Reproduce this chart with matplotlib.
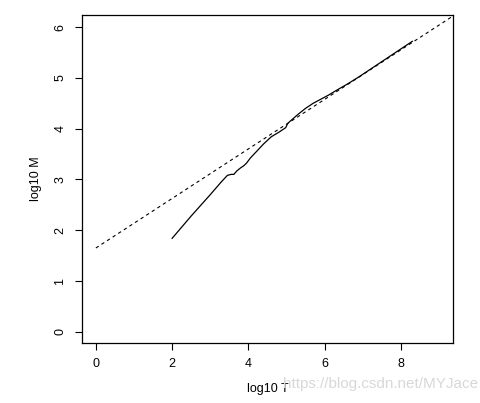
import matplotlib.pyplot as plt
import numpy as np

plt.rcParams['font.family'] = ['Liberation Sans', 'DejaVu Sans']

# Dashed reference line endpoints (log10 T, log10 M)
ref_t = [0.0, 9.37]
ref_m = [1.65, 6.22]

obs_t = [2.0, 2.5, 3.0, 3.3, 3.45, 3.55, 3.62, 3.7, 3.8, 3.88, 3.95, 4.05,
         4.2, 4.4, 4.6, 4.8, 4.98, 5.03, 5.1, 5.3, 5.5, 5.7, 5.9, 6.1,
         6.3, 6.6, 6.9, 7.3, 7.7, 8.0, 8.3]
obs_m = [1.84, 2.28, 2.7, 2.96, 3.08, 3.1, 3.1, 3.17, 3.23, 3.27, 3.32, 3.42,
         3.54, 3.7, 3.84, 3.93, 4.02, 4.1, 4.15, 4.28, 4.4, 4.5, 4.58, 4.66,
         4.75, 4.88, 5.02, 5.22, 5.42, 5.57, 5.72]

fig = plt.figure(figsize=(4.81, 4.03), dpi=100)
ax = fig.add_axes([0.170, 0.149, 0.772, 0.814])

ax.plot(ref_t, ref_m, linestyle=(0, (3, 3)), color='black', linewidth=0.8)
ax.plot(obs_t, obs_m, color='black', linewidth=0.9)

ax.set_xlim(-0.37, 9.37)
ax.set_ylim(-0.22, 6.24)
ax.set_xticks([0, 2, 4, 6, 8])
ax.set_yticks([0, 1, 2, 3, 4, 5, 6])
ax.tick_params(direction='out', length=5, width=0.8, labelsize=9, pad=6)
for lab in ax.get_yticklabels():
    lab.set_rotation(90)
    lab.set_va('center')
for s in ax.spines.values():
    s.set_linewidth(0.9)

ax.set_xlabel("log10 T", fontsize=9, labelpad=9)
ax.set_ylabel("log10 M", fontsize=9, labelpad=9)

# Watermark as in the source image
fig.text(0.995, 0.048, "https://blog.csdn.net/MYJace", fontsize=11,
         color='#d8d8d8', ha='right', va='center')

fig.savefig("out.png", dpi=100)
